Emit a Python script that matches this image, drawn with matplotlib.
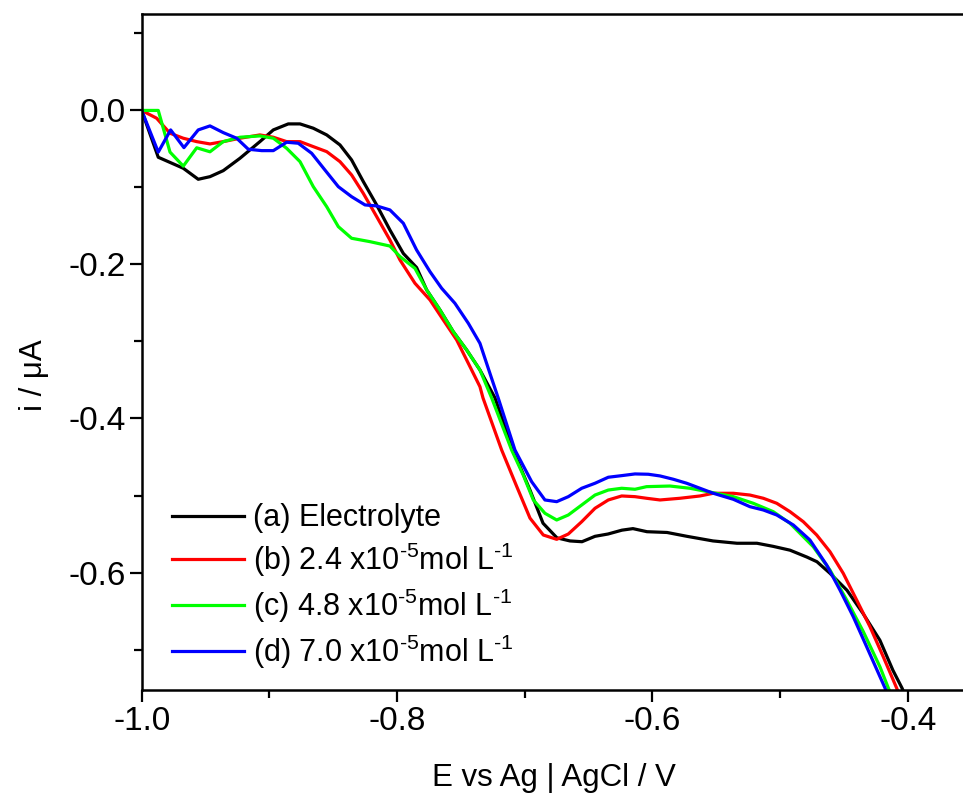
import matplotlib
matplotlib.use("Agg")
import matplotlib.pyplot as plt
from matplotlib.ticker import MultipleLocator, FormatStrFormatter

plt.rcParams["font.family"] = ["Liberation Sans", "DejaVu Sans"]
plt.rcParams["axes.unicode_minus"] = False
plt.rcParams["mathtext.fontset"] = "custom"
plt.rcParams["mathtext.rm"] = "Liberation Sans"
plt.rcParams["mathtext.it"] = "Liberation Sans:italic"
plt.rcParams["mathtext.bf"] = "Liberation Sans:bold"

# (a) Electrolyte
e_a = [-1.0, -0.987, -0.9674, -0.9557, -0.9465, -0.9361, -0.9230, -0.9074, -0.8969,
       -0.8852, -0.8760, -0.8656, -0.8551, -0.8447, -0.8356, -0.8265, -0.8160, -0.8056,
       -0.7951, -0.7847, -0.7768, -0.7664, -0.7560, -0.7455, -0.7351, -0.7233, -0.7092,
       -0.6959, -0.6857, -0.6748, -0.6646, -0.6552, -0.6450, -0.6348, -0.6239, -0.6153,
       -0.6043, -0.5886, -0.5730, -0.5526, -0.5338, -0.5182, -0.5056, -0.4923, -0.4790,
       -0.4712, -0.4610, -0.4477, -0.4352, -0.4219, -0.4117, -0.4046, -0.3995]
i_a = [0.0, -0.0608, -0.0751, -0.0894, -0.0860, -0.0782, -0.0621, -0.0405, -0.0253,
       -0.0175, -0.0175, -0.0231, -0.0318, -0.0448, -0.0643, -0.0922, -0.1227, -0.1552,
       -0.1857, -0.2040, -0.2331, -0.2591, -0.2873, -0.3110, -0.3370, -0.3734, -0.4409,
       -0.4930, -0.5360, -0.5550, -0.5590, -0.5600, -0.5530, -0.5500, -0.5450, -0.5430,
       -0.5470, -0.5480, -0.5530, -0.5590, -0.5620, -0.5620, -0.5660, -0.5710, -0.5800,
       -0.5860, -0.6010, -0.6230, -0.6530, -0.6880, -0.7270, -0.7500, -0.7700]

# (b) 2.4 x10^-5 mol/L
e_b = [-1.0, -0.9883, -0.9778, -0.9674, -0.9569, -0.9465, -0.9361, -0.9230, -0.9074,
       -0.8969, -0.8865, -0.8760, -0.8656, -0.8551, -0.8447, -0.8356, -0.8265, -0.8160,
       -0.8056, -0.7977, -0.7860, -0.7742, -0.7638, -0.7533, -0.7429, -0.7351, -0.7327,
       -0.7181, -0.7063, -0.6959, -0.6855, -0.6750, -0.6659, -0.6554, -0.6450, -0.6346,
       -0.6241, -0.6137, -0.6046, -0.5941, -0.5785, -0.5628, -0.5524, -0.5367, -0.5237,
       -0.5132, -0.5027, -0.4923, -0.4819, -0.4714, -0.4610, -0.4506, -0.4401, -0.4297,
       -0.4193, -0.4088, -0.4040]
i_b = [0.0, -0.0101, -0.0296, -0.0361, -0.0405, -0.0435, -0.0405, -0.0361, -0.0318,
       -0.0348, -0.0405, -0.0405, -0.0470, -0.0535, -0.0665, -0.0838, -0.1075, -0.1378,
       -0.1682, -0.1942, -0.2244, -0.2461, -0.2721, -0.2981, -0.3327, -0.3587, -0.3734,
       -0.4409, -0.4883, -0.5294, -0.5513, -0.5569, -0.5500, -0.5340, -0.5166, -0.5058,
       -0.5006, -0.5015, -0.5036, -0.5058, -0.5036, -0.5006, -0.4971, -0.4971, -0.4994,
       -0.5036, -0.5101, -0.5210, -0.5340, -0.5513, -0.5730, -0.6011, -0.6357, -0.6703,
       -0.7093, -0.7500, -0.7700]

# (c) 4.8 x10^-5 mol/L
e_c = [-1.0, -0.987, -0.9778, -0.9674, -0.9569, -0.9465, -0.9361, -0.9230, -0.9074,
       -0.8969, -0.8865, -0.8760, -0.8656, -0.8551, -0.8460, -0.8356, -0.8212, -0.8056,
       -0.7977, -0.7860, -0.7768, -0.7664, -0.7560, -0.7455, -0.7351, -0.7259, -0.7103,
       -0.7012, -0.6933, -0.6842, -0.6750, -0.6659, -0.6554, -0.6450, -0.6346, -0.6241,
       -0.6137, -0.6046, -0.5863, -0.5707, -0.5524, -0.5367, -0.5211, -0.5054, -0.4923,
       -0.4741, -0.4610, -0.4479, -0.4349, -0.4219, -0.4153, -0.4100]
i_c = [0.0, 0.0, -0.0541, -0.0723, -0.0485, -0.0537, -0.0405, -0.0348, -0.0331,
       -0.0361, -0.0491, -0.0665, -0.0990, -0.1250, -0.1509, -0.1660, -0.1704, -0.1761,
       -0.1898, -0.2050, -0.2331, -0.2591, -0.2873, -0.3110, -0.3370, -0.3734, -0.4409,
       -0.4734, -0.5058, -0.5231, -0.5318, -0.5253, -0.5123, -0.4994, -0.4929, -0.4906,
       -0.4919, -0.4885, -0.4877, -0.4906, -0.4964, -0.5015, -0.5101, -0.5210, -0.5361,
       -0.5665, -0.5968, -0.6357, -0.6768, -0.7223, -0.7500, -0.7700]

# (d) 7.0 x10^-5 mol/L
e_d = [-1.0, -0.987, -0.9773, -0.9669, -0.9557, -0.9465, -0.9361, -0.9256, -0.9165,
       -0.9060, -0.8969, -0.8865, -0.8774, -0.8669, -0.8565, -0.8460, -0.8356, -0.8251,
       -0.8160, -0.8056, -0.7951, -0.7847, -0.7742, -0.7651, -0.7547, -0.7442, -0.7351,
       -0.7273, -0.7208, -0.7077, -0.6946, -0.6842, -0.6750, -0.6659, -0.6554, -0.6450,
       -0.6346, -0.6241, -0.6137, -0.6033, -0.5941, -0.5837, -0.5732, -0.5628, -0.5524,
       -0.5367, -0.5237, -0.5132, -0.5027, -0.4897, -0.4767, -0.4636, -0.4532, -0.4428,
       -0.4323, -0.4179, -0.4130]
i_d = [0.0, -0.0541, -0.0253, -0.0483, -0.0253, -0.0201, -0.0288, -0.0361, -0.0504,
       -0.0522, -0.0522, -0.0413, -0.0426, -0.0556, -0.0773, -0.0990, -0.1120, -0.1227,
       -0.1240, -0.1292, -0.1465, -0.1812, -0.2094, -0.2309, -0.2504, -0.2764, -0.3024,
       -0.3413, -0.3734, -0.4409, -0.4821, -0.5058, -0.5080, -0.5015, -0.4906, -0.4841,
       -0.4763, -0.4742, -0.4720, -0.4724, -0.4746, -0.4789, -0.4841, -0.4906, -0.4971,
       -0.5049, -0.5145, -0.5188, -0.5253, -0.5383, -0.5578, -0.5903, -0.6227, -0.6573,
       -0.6963, -0.7500, -0.7700]

labels = ["(a) Electrolyte",
          "(b) 2.4 x10$^{\\text{-5}}$mol L$^{\\text{-1}}$",
          "(c) 4.8 x10$^{\\text{-5}}$mol L$^{\\text{-1}}$",
          "(d) 7.0 x10$^{\\text{-5}}$mol L$^{\\text{-1}}$"]
colors = ["#000000", "#ff0000", "#00ff00", "#0000ff"]

fig = plt.figure(figsize=(9.63, 7.96), dpi=100)
ax = fig.add_axes([0.1471, 0.1335, 0.856, 0.849])

for e, i, lab, c in zip([e_a, e_b, e_c, e_d], [i_a, i_b, i_c, i_d], labels, colors):
    ax.plot(e, i, color=c, lw=2.3, label=lab)

ax.set_xlim(-1.0, -0.3545)
ax.set_ylim(-0.7522, 0.1253)

ax.xaxis.set_major_locator(MultipleLocator(0.2))
ax.xaxis.set_minor_locator(MultipleLocator(0.1))
ax.yaxis.set_major_locator(MultipleLocator(0.2))
ax.yaxis.set_minor_locator(MultipleLocator(0.1))
ax.xaxis.set_major_formatter(FormatStrFormatter("%.1f"))
ax.yaxis.set_major_formatter(FormatStrFormatter("%.1f"))

ax.tick_params(which="both", direction="out", width=1.6, top=False, right=False,
               labelsize=24)
ax.tick_params(which="major", length=8.5, pad=3)
ax.tick_params(which="minor", length=5.5)
for s in ax.spines.values():
    s.set_linewidth(1.8)

ax.set_xlabel("E vs Ag | AgCl / V", fontsize=22.5, labelpad=19)
ax.set_ylabel("i / \u03bcA", fontsize=22.5)
ax.yaxis.set_label_coords(-0.113, 0.466)

ax.legend(loc="upper left", bbox_to_anchor=(0.037, 0.276), frameon=False,
          fontsize=22, handlelength=2.35, handletextpad=0.3, labelspacing=0.25,
          borderaxespad=0, borderpad=0)

fig.savefig("out.png", dpi=100)
